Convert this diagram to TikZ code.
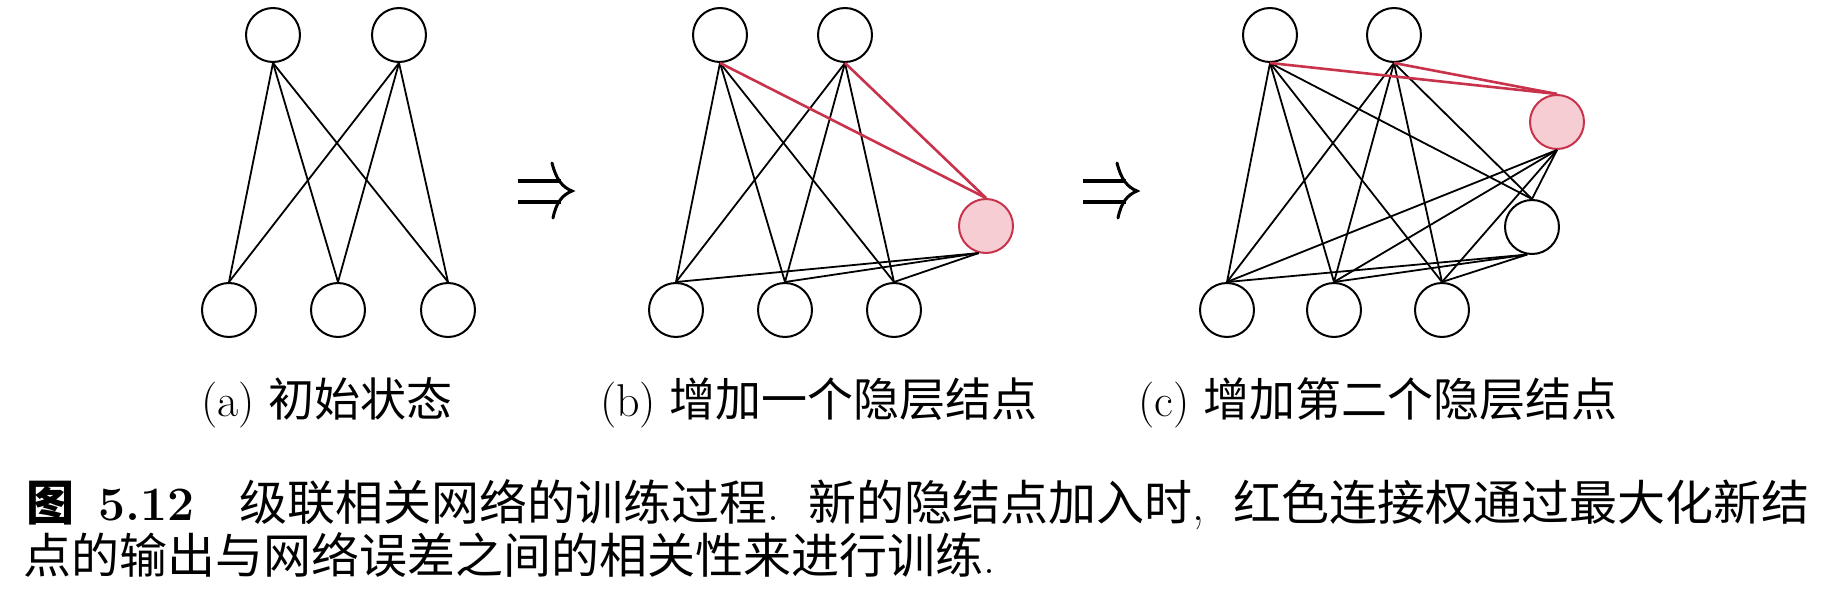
\documentclass[tikz,border=0pt]{standalone}
\usepackage{fontspec}
\newfontfamily\cjk{Noto Sans CJK SC}
\definecolor{redc}{HTML}{C8324A}
\definecolor{pinkc}{HTML}{F6CDD3}
\begin{document}
\begin{tikzpicture}[x=1pt,y=-1pt,
  unit/.style={circle,draw,line width=2pt,minimum size=54pt,inner sep=0pt},
  newunit/.style={unit,draw=redc,fill=pinkc},
  link/.style={line width=1.8pt},
  redlink/.style={line width=2.6pt,draw=redc},
  lbl/.style={font=\fontsize{46}{56}\selectfont,inner sep=0pt},
  captext/.style={font=\fontsize{48}{58}\selectfont,inner sep=0pt,anchor=west},
  arrbar/.style={line width=4pt},
  arrhead/.style={line width=3pt,line cap=round}]
\useasboundingbox (0,0) rectangle (1831,607);
% ---------- panel (a)
\node[unit] (a1) at (273,35) {};
\node[unit] (a2) at (399,35) {};
\node[unit] (ab1) at (229,310) {};
\node[unit] (ab2) at (338,310) {};
\node[unit] (ab3) at (448,310) {};
\foreach \t in {a1,a2}{\foreach \b in {ab1,ab2,ab3}{\draw[link] (\t.south) -- (\b.north);}}
% ---------- panel (b)
\node[unit] (b1) at (720,35) {};
\node[unit] (b2) at (845,35) {};
\node[unit] (bb1) at (676,310) {};
\node[unit] (bb2) at (785,310) {};
\node[unit] (bb3) at (894,310) {};
\node[newunit] (bh) at (986,226) {};
\foreach \t in {b1,b2}{\foreach \b in {bb1,bb2,bb3}{\draw[link] (\t.south) -- (\b.north);}}
\foreach \b in {bb1,bb2,bb3}{\draw[link] (bh.-105) -- (\b.north);}
\draw[redlink] (b1.south) -- (bh.north);
\draw[redlink] (b2.south) -- (bh.north);
% ---------- panel (c)
\node[unit] (c1) at (1270,35) {};
\node[unit] (c2) at (1394,35) {};
\node[unit] (cb1) at (1227,310) {};
\node[unit] (cb2) at (1334,310) {};
\node[unit] (cb3) at (1442,310) {};
\node[unit] (ch2) at (1532,227) {};
\node[newunit] (ch1) at (1557,122) {};
\foreach \t in {c1,c2}{\foreach \b in {cb1,cb2,cb3}{\draw[link] (\t.south) -- (\b.north);}
  \draw[link] (\t.south) -- (ch2.north);}
\foreach \b in {cb1,cb2,cb3}{\draw[link] (ch1.south) -- (\b.north);
  \draw[link] (ch2.-100) -- (\b.north);}
\draw[link] (ch1.south) -- (ch2.north);
\draw[redlink] (c1.south) -- (ch1.north);
\draw[redlink] (c2.south) -- (ch1.north);
% ---------- arrows (double arrow glyph drawn)
\foreach \n/\cx in {arr1/545,arr2/1110}{
  \coordinate (\n) at (\cx,191);
  \draw[arrbar] ([shift={(-27,-10)}]\n) -- ([shift={(16,-10)}]\n);
  \draw[arrbar] ([shift={(-27,11)}]\n) -- ([shift={(16,11)}]\n);
  \draw[arrhead] ([shift={(7,-28)}]\n) .. controls ([shift={(11,-12)}]\n) and ([shift={(17,-4)}]\n) .. ([shift={(27,0)}]\n)
     .. controls ([shift={(17,4)}]\n) and ([shift={(11,12)}]\n) .. ([shift={(8,27)}]\n);
}
% ---------- labels
\node[lbl] (la) at (327,403) {(a) {\cjk 初始状态}};
\node[lbl] (lb) at (819,403) {(b) {\cjk 增加一个隐层结点}};
\node[lbl] (lc) at (1378,403) {(c) {\cjk 增加第二个隐层结点}};
% ---------- caption
\node[captext] (cap1) at (26,505) {{\cjk\bfseries 图}\hspace{0.5em}\textbf{5.12}\hspace{0.95em}{\cjk 级联相关网络的训练过程}.\hspace{0.6em}{\cjk 新的隐结点加入时},\hspace{0.6em}{\cjk 红色连接权通过最大化新结}};
\node[captext] (cap2) at (23,555) {{\cjk 点的输出与网络误差之间的相关性来进行训练}.};
\end{tikzpicture}
\end{document}
